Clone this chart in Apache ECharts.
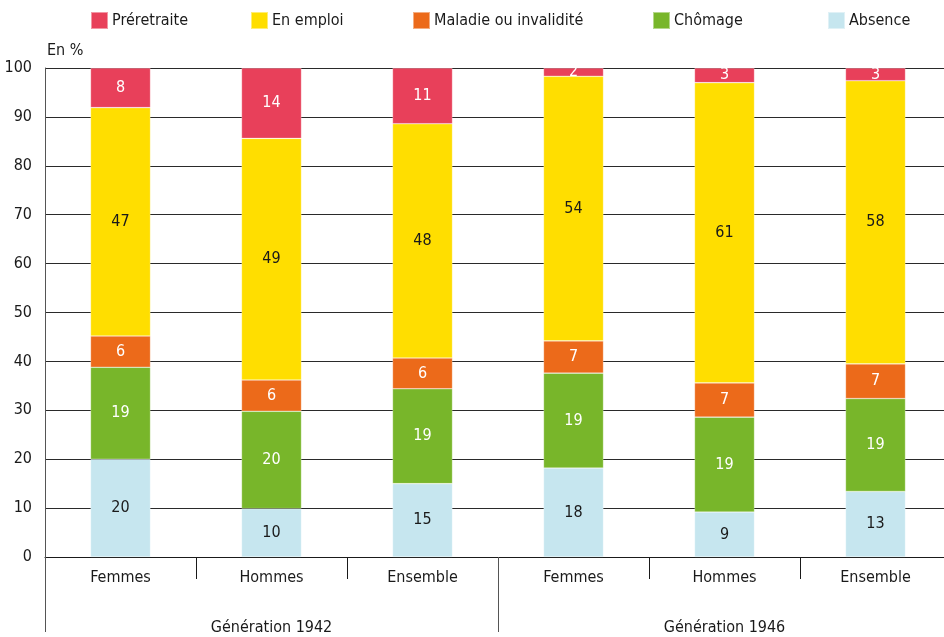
<!DOCTYPE html>
<html>
<head>
<meta charset="utf-8">
<script src="https://cdn.jsdelivr.net/npm/echarts@6/dist/echarts.min.js"></script>
<style>html,body{margin:0;padding:0;background:#fff}#c{width:944px;height:637px}</style>
</head>
<body>
<div id="c"></div>
<script>
const categories = ['Femmes','Hommes','Ensemble','Femmes','Hommes','Ensemble'];
const groups = ['Génération 1942','Génération 1946'];
const yTicks = [0,10,20,30,40,50,60,70,80,90,100];
const absence     = [20.0, 9.9, 15.0, 18.2, 9.2, 13.4];
const chomage     = [18.8, 19.9, 19.4, 19.4, 19.4, 19.0];
const maladie     = [6.4, 6.4, 6.3, 6.6, 7.0, 7.1];
const emploi      = [46.7, 49.4, 47.9, 54.1, 61.4, 57.9];
const preretraite = [8.1, 14.4, 11.4, 1.7, 3.0, 2.6];

const FONT = "'DejaVu Sans Condensed',sans-serif";
const colors = {
  'Préretraite':'#E8405A',
  'En emploi':'#FFDE00',
  'Maladie ou invalidité':'#EC6A1A',
  'Chômage':'#78B62A',
  'Absence':'#C6E6EF'
};
const seriesDefs = [
  ['Absence', absence, '#1a1a1a'],
  ['Chômage', chomage, '#ffffff'],
  ['Maladie ou invalidité', maladie, '#ffffff'],
  ['En emploi', emploi, '#1a1a1a'],
  ['Préretraite', preretraite, '#ffffff']
];
const legendOrder = ['Préretraite','En emploi','Maladie ou invalidité','Chômage','Absence'];
const legendLeft = [90, 250, 412, 652, 827];

const chart = echarts.init(document.getElementById('c'), null, {renderer:'canvas'});
chart.setOption({
  animation:false,
  textStyle:{fontFamily:FONT},
  legend: legendOrder.map((n,i)=>({
    data:[n], left:legendLeft[i], top:11, itemWidth:17, itemHeight:17,
    icon:'rect', itemGap:0, padding:0,
    textStyle:{fontFamily:FONT, fontSize:16, color:'#1a1a1a', padding:[0,0,0,-1]}
  })),
  grid:{left:45, width:906, top:68, bottom:80, containLabel:false, outerBoundsMode:'none'},
  xAxis:[
    {type:'category', data:categories, position:'bottom',
     axisLine:{show:true, lineStyle:{color:'#1a1a1a', width:1}},
     axisTick:{show:true, alignWithLabel:false, length:22, lineStyle:{color:'#1a1a1a'}},
     axisLabel:{fontFamily:FONT, fontSize:16, color:'#1a1a1a', margin:13}},
    {type:'category', data:groups, position:'bottom',
     axisLine:{show:false},
     axisTick:{show:true, length:75, lineStyle:{color:'#555'}},
     axisLabel:{fontFamily:FONT, fontSize:16, color:'#1a1a1a', margin:63}}
  ],
  yAxis:{type:'value', min:yTicks[0], max:yTicks[yTicks.length-1], interval:10,
    name:'En %', nameLocation:'end', nameGap:9,
    nameTextStyle:{fontFamily:FONT, fontSize:16, color:'#1a1a1a', align:'left', padding:[0,0,0,2]},
    axisLine:{show:true, lineStyle:{color:'#555', width:1}},
    axisTick:{show:false},
    splitLine:{lineStyle:{color:'#2a2a2a', width:1}},
    axisLabel:{fontFamily:FONT, fontSize:16, color:'#1a1a1a', margin:13}},
  series: seriesDefs.map(([name, arr, lc])=>({
    name, type:'bar', stack:'total', data:arr, barWidth:60, xAxisIndex:0,
    itemStyle:{color:colors[name], borderColor:'rgba(255,255,255,0.45)', borderWidth:0.6},
    label:{show:true, position:'inside', color:lc, fontFamily:FONT, fontSize:16,
      formatter:p=>Math.round(p.value)}
  }))
});
</script>
</body>
</html>
